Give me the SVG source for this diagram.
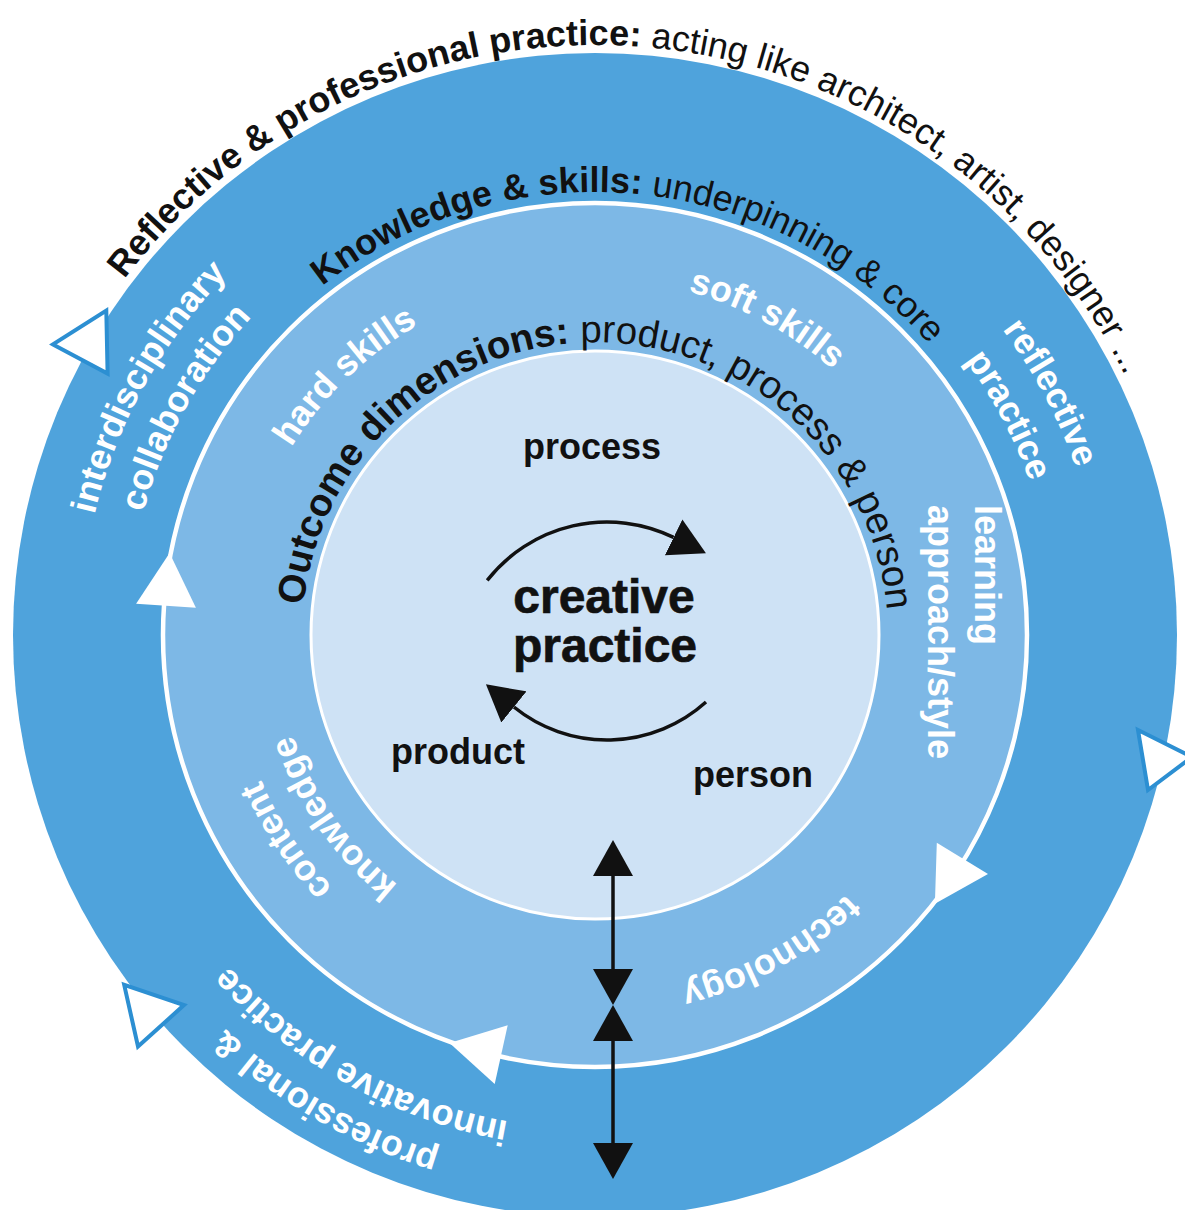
<svg xmlns="http://www.w3.org/2000/svg" width="1185" height="1210" viewBox="0 0 1185 1210">
<defs>
<style>
text { font-family: "Liberation Sans", Arial, sans-serif; }
.title { font-size: 36px; fill: #111; text-anchor: middle; }
.t38 { font-size: 38.5px; }
.b { font-weight: bold; }
.lbl { font-size: 36px; font-weight: bold; fill: #fff; }
.mid { text-anchor: middle; }
.ctr { font-size: 36px; font-weight: bold; fill: #111; text-anchor: middle; }
.big { font-size: 48px; stroke: #111; stroke-width: 0.7; }
.oarr { fill: #fff; stroke: #2c8fd2; stroke-width: 4; stroke-linejoin: miter; }
.iarr { fill: #fff; }
.blk { fill: none; stroke: #111; stroke-width: 3.5; }
</style>
<marker id="ah" viewBox="0 -20 36 40" refX="0" refY="0" markerWidth="36" markerHeight="40" markerUnits="userSpaceOnUse" orient="auto-start-reverse"><path d="M0,-20 L36,0 L0,20 z" fill="#111"/></marker>
<path id="p1" d="M26.5,477.3 A590,590 0 0 1 1183.2,588.7"/>
<path id="p2" d="M168.1,516.6 A443,443 0 0 1 1036.6,600.2"/>
<path id="p3" d="M302.9,658 A293,293 0 1 1 886.7,663.1"/>
<path id="p4" d="M299,834.6 A357,357 0 0 1 804.8,346.2"/>
<path id="p5" d="M316.4,413.4 A356,356 0 0 1 932.6,748"/>
<path id="p6" d="M741.3,968.3 A364,364 0 0 1 343.5,371.8"/>
<path id="p7" d="M729.4,923.2 A318,318 0 0 1 370.1,410.1"/>
<path id="p8" d="M936.3,517.5 A361,361 0 0 1 314.4,862.2"/>
<path id="p9" d="M270.9,1035.2 A515,515 0 0 1 762.7,148.1"/>
<path id="p10" d="M300.5,998.7 A468,468 0 0 1 747.4,192.5"/>
<path id="p11" d="M437.7,150.9 A509,509 0 0 1 908.4,1036.1"/>
<path id="p12" d="M452.5,196.6 A461,461 0 0 1 878.8,998.3"/>
<path id="p13" d="M1008.7,982.1 A540,540 0 0 1 87.6,450.3"/>
<path id="p14" d="M978.9,945.9 A494,494 0 0 1 127.9,474.2"/>
</defs>

<g id="outer-ring">
<circle cx="595" cy="635" r="582" fill="#4fa3dc"/>
<polygon class="oarr" points="53,344.4 107.6,373.6 106.3,310.5"/>
<polygon class="oarr" points="1138,730 1192,757 1148,790"/>
<polygon class="oarr" points="138,1046.5 184,1005.1 124.2,984.9"/>
</g>

<g id="middle-ring">
<circle cx="595" cy="635" r="432" fill="#7db8e6" stroke="#fff" stroke-width="4.5"/>
<polygon class="iarr" points="136.1,603.8 195.9,607.8 169.6,552.9"/>
<polygon class="iarr" points="988,874 936.8,842.8 934.9,903.7"/>
<polygon class="iarr" points="494.7,1083.9 507.7,1025.3 449.5,1043"/>
</g>

<g id="inner-circle">
<circle cx="595" cy="635" r="284" fill="#cee2f5" stroke="#fff" stroke-width="3"/>
</g>

<g id="ring-titles">
<text class="title"><textPath href="#p1" startOffset="50%"><tspan class="b">Reflective &amp; professional practice:</tspan> acting like architect, artist, designer ...</textPath></text>
<text class="title"><textPath href="#p2" startOffset="50%"><tspan class="b">Knowledge &amp; skills:</tspan> underpinning &amp; core</textPath></text>
<text class="title t38"><textPath href="#p3" startOffset="50%"><tspan class="b">Outcome dimensions:</tspan> product, process &amp; person</textPath></text>
</g>

<g id="outer-labels">
<text class="lbl mid"><textPath href="#p9" startOffset="50%">interdisciplinary</textPath></text>
<text class="lbl mid"><textPath href="#p10" startOffset="50%">collaboration</textPath></text>
<text class="lbl mid"><textPath href="#p11" startOffset="50%">reflective</textPath></text>
<text class="lbl mid"><textPath href="#p12" startOffset="50%">practice</textPath></text>
<text class="lbl mid"><textPath href="#p13" startOffset="50%">professional &amp;</textPath></text>
<text class="lbl mid"><textPath href="#p14" startOffset="50%">innovative practice</textPath></text>
</g>

<g id="middle-labels">
<text class="lbl mid"><textPath href="#p4" startOffset="50%">hard skills</textPath></text>
<text class="lbl mid"><textPath href="#p5" startOffset="50%">soft skills</textPath></text>
<text class="lbl mid"><textPath href="#p6" startOffset="50%">content</textPath></text>
<text class="lbl mid"><textPath href="#p7" startOffset="50%">knowledge</textPath></text>
<text class="lbl mid"><textPath href="#p8" startOffset="50%">technology</textPath></text>
<text class="lbl" transform="translate(975,505) rotate(90)">learning</text>
<text class="lbl" transform="translate(928,505) rotate(90)">approach/style</text>
</g>

<g id="centre">
<text class="ctr" x="592" y="459">process</text>
<text class="ctr" x="458" y="764">product</text>
<text class="ctr" x="753" y="787">person</text>
<text class="ctr big" x="604" y="613">creative</text>
<text class="ctr big" x="605" y="662">practice</text>
</g>

<g id="connectors">
<path class="blk" d="M487.2,580.4 A152,152 0 0 1 673.6,537.4" marker-end="url(#ah)"/>
<path class="blk" d="M706,702 A148,148 0 0 1 513.9,707" marker-end="url(#ah)"/>
<path class="blk" d="M613,876 L613,969" marker-start="url(#ah)" marker-end="url(#ah)"/>
<path class="blk" d="M613,1041 L613,1143" marker-start="url(#ah)" marker-end="url(#ah)"/>
</g>
</svg>
